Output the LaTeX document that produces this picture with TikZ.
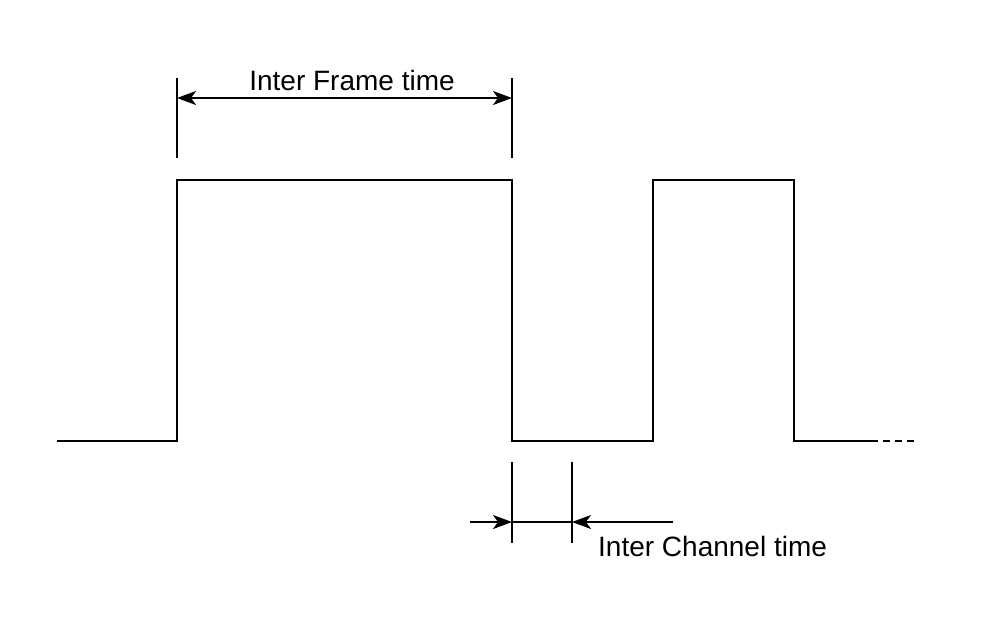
\documentclass[tikz,border=0pt]{standalone}
\usepackage{fontspec}
\setmainfont{Liberation Sans}
\usetikzlibrary{arrows.meta}
\begin{document}
\begin{tikzpicture}[x=1pt,y=-1pt,
  sig/.style={line width=1.8pt},
  tick/.style={line width=1.6pt},
  dim/.style={line width=1.6pt},
  head/.tip={Stealth[length=19pt,width=14pt,inset=5pt]},
  tip/.style={-head},
  lbl/.style={font=\fontsize{28}{32}\selectfont, inner sep=0pt}]
\useasboundingbox (0,0) rectangle (984,638);
% signal coordinates
\coordinate (s0) at (57,441);
\coordinate (r1) at (177,441);
\coordinate (t1) at (177,180);
\coordinate (t2) at (512,180);
\coordinate (f1) at (512,441);
\coordinate (r2) at (653,441);
\coordinate (t3) at (653,180);
\coordinate (t4) at (794,180);
\coordinate (f2) at (794,441);
\coordinate (e1) at (878,441);
\coordinate (e2) at (916,441);
\draw[sig, line join=miter] (s0) -- (r1) -- (t1) -- (t2) -- (f1) -- (r2) -- (t3) -- (t4) -- (f2) -- (e1);
\draw[sig, dash pattern=on 7pt off 5pt, dash phase=-5pt] (e1) -- (e2);
% inter frame
\coordinate (a1) at (177,78);
\coordinate (a2) at (177,158);
\coordinate (b1) at (512,78);
\coordinate (b2) at (512,158);
\draw[tick] (a1) -- (a2);
\draw[tick] (b1) -- (b2);
\coordinate (fl) at (177,98);
\coordinate (fr) at (512,98);
\draw[dim, head-head] (fl) -- (fr);
\node[lbl] (ftxt) at (352,80) {Inter Frame time};
% inter channel
\coordinate (c1) at (512,462);
\coordinate (c2) at (512,543);
\coordinate (d1) at (572,462);
\coordinate (d2) at (572,543);
\draw[tick] (c1) -- (c2);
\draw[tick] (d1) -- (d2);
\coordinate (cl0) at (470,522);
\coordinate (cl) at (512,522);
\coordinate (cr) at (572,522);
\coordinate (cr0) at (673,522);
\draw[dim, tip] (cl0) -- (cl);
\draw[dim] (cl) -- (cr);
\draw[dim, tip] (cr0) -- (cr);
\node[lbl, anchor=west] (ctxt) at (598,546) {Inter Channel time};
\end{tikzpicture}
\end{document}
